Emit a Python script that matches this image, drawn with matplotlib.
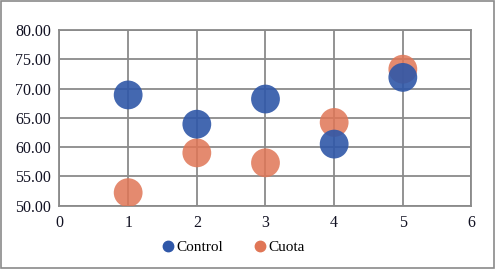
import numpy as np
import matplotlib
matplotlib.use("Agg")
import matplotlib.pyplot as plt
from matplotlib.lines import Line2D

# datos
x = [1, 2, 3, 4, 5]
control = [68.9, 63.9, 68.2, 60.5, 71.9]
cuota = [52.2, 59.0, 57.3, 64.2, 73.3]
xticks = [0, 1, 2, 3, 4, 5, 6]
yticks = [50, 55, 60, 65, 70, 75, 80]

plt.rcParams['font.family'] = ['Liberation Serif', 'DejaVu Serif']

fig = plt.figure(figsize=(4.95, 2.69), dpi=100)
ax = fig.add_axes([0.1202, 0.236, 0.8323, 0.6525])

azul = '#2f57a8'
naranja = '#e07656'

ax.scatter(x, cuota, s=430, color=naranja, alpha=0.85, edgecolors='none', zorder=3)
ax.scatter(x, control, s=430, color=azul, alpha=0.9, edgecolors='none', zorder=4)

ax.set_xlim(0, 6)
ax.set_ylim(50, 80)
ax.set_xticks(xticks)
ax.set_yticks(yticks)
ax.set_yticklabels([f"{v:.2f}" for v in yticks])
ax.grid(True, color='#8a8a8a', linewidth=1.3)
ax.set_axisbelow(True)
for s in ax.spines.values():
    s.set_color('#8a8a8a')
    s.set_linewidth(1.3)
ax.tick_params(length=0, labelsize=11.5, pad=6, colors='#111122')
ax.tick_params(axis='x', pad=7)

handles = [Line2D([], [], marker='o', ls='', color=azul, markersize=7.5),
           Line2D([], [], marker='o', ls='', color=naranja, markersize=7.5)]
fig.legend(handles, ['Control', 'Cuota'], loc='center', bbox_to_anchor=(0.47, 0.08),
           ncol=2, frameon=False, fontsize=11, handletextpad=0.05, columnspacing=1.9,
           handlelength=1.0)

# marco exterior
fig.patches.append(plt.Rectangle((0.003, 0.005), 0.994, 0.99, transform=fig.transFigure,
                                 fill=False, edgecolor='#8a8a8a', linewidth=1.2))

fig.savefig('out.png', dpi=100)
